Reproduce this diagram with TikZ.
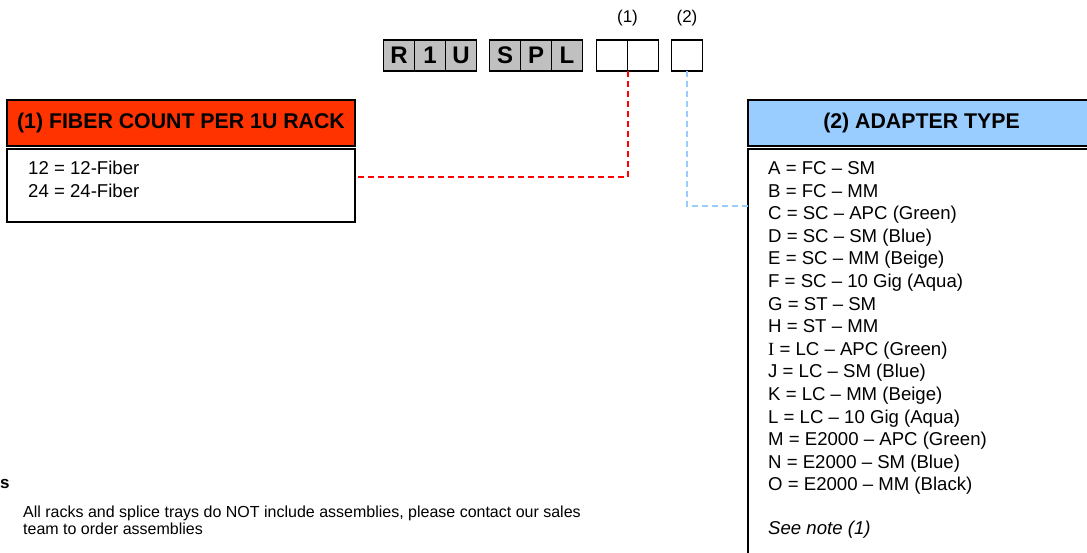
\documentclass[tikz,border=0pt]{standalone}
\usepackage{fontspec}
\setmainfont{Liberation Sans}
\newfontfamily\serifI{Liberation Serif}
\usetikzlibrary{positioning}

\definecolor{headred}{HTML}{FF3300}
\definecolor{headblue}{HTML}{99CCFF}
\definecolor{boxgray}{HTML}{C0C0C0}

\begin{document}
\begin{tikzpicture}[x=1pt, y=-1pt,
    codebox/.style={draw, line width=1.8pt, fill=boxgray, minimum size=31pt, inner sep=0pt, outer sep=0pt, font=\fontsize{24}{24}\selectfont\bfseries},
    emptybox/.style={draw, line width=1.8pt, minimum size=31pt, inner sep=0pt, outer sep=0pt},
    headbox/.style={draw, line width=1.6pt, minimum height=46pt, inner sep=0pt, outer sep=0pt, font=\fontsize{21.3}{21.3}\selectfont\bfseries},
    bodybox/.style={draw, line width=1.6pt, inner sep=0pt, outer sep=0pt},
    listtext/.style={align=left, inner sep=0pt, font=\fontsize{18.6}{22.6}\selectfont},
    reddash/.style={red, line width=2pt, dash pattern=on 6pt off 4pt},
    bluedash/.style={headblue, line width=2pt, dash pattern=on 6pt off 4pt}]
    \useasboundingbox (0,0) rectangle (1087,552);

    % part number: R1U SPL __ _
    \node[codebox] (r) at (399,55.5) {R};
    \node[codebox, right=0pt of r] (one) {1};
    \node[codebox, right=0pt of one] (u) {U};
    \node[codebox, right=13pt of u] (s) {S};
    \node[codebox, right=0pt of s] (p) {P};
    \node[codebox, right=0pt of p] (l) {L};
    \node[emptybox, right=14pt of l] (cnt1) {};
    \node[emptybox, right=0pt of cnt1] (cnt2) {};
    \node[emptybox, right=13pt of cnt2] (adp) {};

    \node[font=\fontsize{17}{17}\selectfont] (lab1) at (cnt1.east |- 0,18) {(1)};
    \node[font=\fontsize{17}{17}\selectfont] (lab2) at (adp.center |- 0,18) {(2)};

    % (1) fiber count
    \node[headbox, fill=headred, minimum width=348pt] (fiberhead) at (181,123) {(1) FIBER COUNT PER 1U RACK};
    \node[bodybox, minimum width=348pt, minimum height=73pt, below=3pt of fiberhead] (fiberbody) {};
    % base = last line
    \node[listtext, anchor=base west] (fibertext) at (28,197) {12 = 12-Fiber\\24 = 24-Fiber};

    % (2) adapter type
    \node[headbox, fill=headblue, minimum width=347pt] (adapterhead) at (921.5,123) {(2) ADAPTER TYPE};
    \node[bodybox, minimum width=347pt, minimum height=420pt, below=3pt of adapterhead] (adapterbody) {};
    \node[listtext, anchor=base west] (adaptertext) at (768,534) {%
        A = FC – SM\\
        B = FC – MM\\
        C = SC – APC (Green)\\
        D = SC – SM (Blue)\\
        E = SC – MM (Beige)\\
        F = SC – 10 Gig (Aqua)\\
        G = ST – SM\\
        H = ST – MM\\
        {\serifI I} = LC – APC (Green)\\
        J = LC – SM (Blue)\\
        K = LC – MM (Beige)\\
        L = LC – 10 Gig (Aqua)\\
        M = E2000 – APC (Green)\\
        N = E2000 – SM (Blue)\\
        O = E2000 – MM (Black)\\[20.6pt]
        \textit{See note (1)}};

    % notes
    \node[anchor=base west, inner sep=0pt, font=\fontsize{17}{17}\selectfont\bfseries] (notes) at (0,488) {s};
    \node[anchor=base west, align=left, inner sep=0pt, font=\fontsize{16}{17}\selectfont] (notetext) at (23,534)
        {All racks and splice trays do NOT include assemblies, please contact our sales\\team to order assemblies};

    % dashed leaders
    \coordinate (redbend) at (cnt1.south east |- 0,177);
    \draw[reddash] (cnt1.south east) -- (redbend) -- (redbend -| fiberbody.east);
    \coordinate (bluebend) at (adp.south |- 0,206);
    \draw[bluedash] (adp.south) -- (bluebend) -- (bluebend -| adapterbody.west);
\end{tikzpicture}
\end{document}
